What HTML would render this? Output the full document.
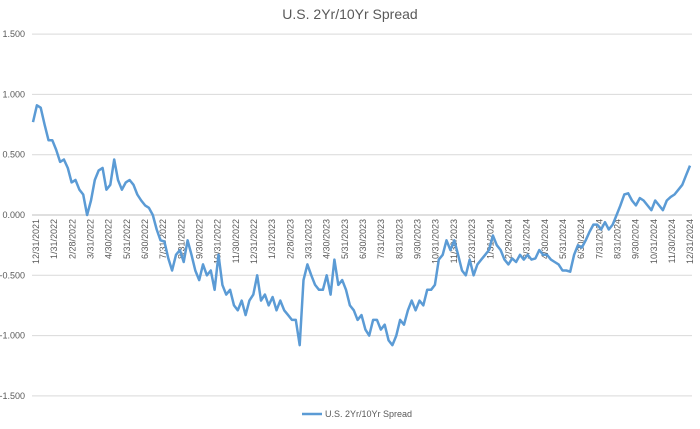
<!DOCTYPE html>
<html><head><meta charset="utf-8"><style>
body{margin:0;background:#fff;}
svg text{font-family:"Liberation Sans",sans-serif;fill:#595959;}
</style></head><body>
<svg id="chart" width="700" height="424" xmlns="http://www.w3.org/2000/svg">
<text x="350" y="19" text-anchor="middle" font-size="14">U.S. 2Yr/10Yr Spread</text>
<g id="grid"></g><g id="ylabels"></g><g id="xlabels"></g><g id="series"></g>
<g>
<line x1="302" y1="414" x2="322" y2="414" stroke="#5B9BD5" stroke-width="2.5"/>
<text x="325" y="417" font-size="9">U.S. 2Yr/10Yr Spread</text>
</g>
</svg>
<script>
const yTicks=[1.5,1.0,0.5,0.0,-0.5,-1.0,-1.5];
const xTickLabels=["12/31/2021","1/31/2022","2/28/2022","3/31/2022","4/30/2022","5/31/2022","6/30/2022","7/31/2022","8/31/2022","9/30/2022","10/31/2022","11/30/2022","12/31/2022","1/31/2023","2/28/2023","3/31/2023","4/30/2023","5/31/2023","6/30/2023","7/31/2023","8/31/2023","9/30/2023","10/31/2023","11/30/2023","12/31/2023","1/31/2024","2/29/2024","3/31/2024","4/30/2024","5/31/2024","6/30/2024","7/31/2024","8/31/2024","9/30/2024","10/31/2024","11/30/2024","12/31/2024"];
const spreadValues=[0.77,0.91,0.89,0.75,0.62,0.62,0.54,0.44,0.46,0.39,0.27,0.29,0.21,0.17,0.00,0.12,0.29,0.37,0.39,0.21,0.25,0.46,0.29,0.21,0.27,0.29,0.25,0.17,0.12,0.08,0.06,0.00,-0.12,-0.21,-0.22,-0.36,-0.46,-0.33,-0.29,-0.39,-0.21,-0.33,-0.46,-0.54,-0.41,-0.50,-0.46,-0.62,-0.33,-0.58,-0.66,-0.62,-0.75,-0.79,-0.71,-0.83,-0.71,-0.66,-0.50,-0.71,-0.66,-0.75,-0.68,-0.79,-0.71,-0.79,-0.83,-0.87,-0.87,-1.08,-0.54,-0.41,-0.50,-0.58,-0.62,-0.62,-0.50,-0.66,-0.37,-0.58,-0.54,-0.62,-0.75,-0.79,-0.87,-0.83,-0.95,-1.00,-0.87,-0.87,-0.95,-0.91,-1.04,-1.08,-1.00,-0.87,-0.91,-0.79,-0.71,-0.79,-0.71,-0.75,-0.62,-0.62,-0.58,-0.37,-0.33,-0.21,-0.29,-0.21,-0.33,-0.46,-0.50,-0.37,-0.50,-0.41,-0.37,-0.33,-0.29,-0.17,-0.25,-0.29,-0.37,-0.41,-0.36,-0.39,-0.33,-0.37,-0.33,-0.37,-0.36,-0.29,-0.33,-0.33,-0.37,-0.39,-0.41,-0.46,-0.46,-0.47,-0.33,-0.25,-0.27,-0.21,-0.14,-0.08,-0.08,-0.12,-0.06,-0.12,-0.08,0.00,0.08,0.17,0.18,0.12,0.08,0.14,0.12,0.08,0.04,0.12,0.08,0.04,0.12,0.15,0.17,0.21,0.25,0.33,0.41];
const NS="http://www.w3.org/2000/svg";
const y=v=>215-v*120.6;
const xTick=i=>36+i*18.17;
const xPt=i=>33+i*(690-33)/(spreadValues.length-1);
function mk(tag,attrs,parent){const e=document.createElementNS(NS,tag);for(const k in attrs)e.setAttribute(k,attrs[k]);parent.appendChild(e);return e;}
const grid=document.getElementById('grid'),yl=document.getElementById('ylabels'),xl=document.getElementById('xlabels'),ser=document.getElementById('series');
yTicks.forEach(v=>{
 const l=mk('line',{x1:32,x2:692,y1:y(v),y2:y(v),stroke:v===0?'#bfbfbf':'#d9d9d9','stroke-width':1},grid);
 
 
 const t=mk('text',{x:25,y:y(v)+3,'text-anchor':'end','font-size':9},yl);
 t.textContent=v.toFixed(3);
 
 
});
xTickLabels.forEach((s,i)=>{
 const x=xTick(i);
 const t=mk('text',{x:0,y:0,'text-anchor':'end','font-size':9,transform:`translate(${x+3},${y(0)+4}) rotate(-90)`},xl);
 t.textContent=s;
 
 
});
const d=spreadValues.map((v,i)=>(i?'L':'M')+xPt(i).toFixed(1)+','+y(v).toFixed(1)).join('');
const p=mk('path',{d:d,fill:'none',stroke:'#5B9BD5','stroke-width':2.5,'stroke-linejoin':'round'},ser);


</script>
</body></html>
